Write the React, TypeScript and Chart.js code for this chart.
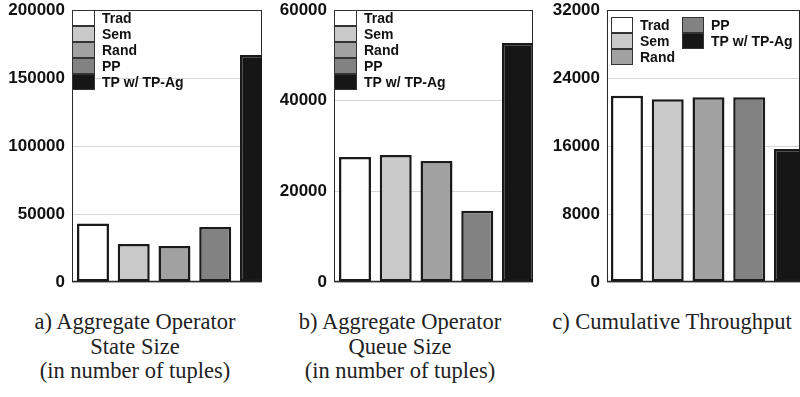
import React, { useEffect, useRef } from "react";
import { Chart, registerables } from "chart.js";
Chart.register(...registerables);

// ---- data ----
const SERIES = ["Trad", "Sem", "Rand", "PP", "TP w/ TP-Ag"];
const COLORS = ["#ffffff", "#c9c9c9", "#a1a1a1", "#828282", "#161616"];
const STATE_SIZE = [43000, 28000, 26500, 40500, 167000];
const QUEUE_SIZE = [27600, 28000, 26700, 15700, 52700];
const THROUGHPUT = [21900, 21500, 21750, 21750, 15650];
const TICKS_STATE = [0, 50000, 100000, 150000, 200000];
const TICKS_QUEUE = [0, 20000, 40000, 60000];
const TICKS_THROUGHPUT = [0, 8000, 16000, 24000, 32000];
const CAPTION_A = ["a) Aggregate Operator", "State Size", "(in number of tuples)"];
const CAPTION_B = ["b) Aggregate Operator", "Queue Size", "(in number of tuples)"];
const CAPTION_C = ["c) Cumulative Throughput"];

type PanelCfg = {
  values: number[];
  ticks: number[];
  left: number;
  width: number;
  yw: number;
  padRight: number;
  xMin: number;
  xMax: number;
  legendCols: number[][];
  legendOffset: { x: number; y: number; colGap: number; boxW: number };
};

const SANS = '"Liberation Sans", Arial, sans-serif';

function Panel({ cfg }: { cfg: PanelCfg }) {
  const ref = useRef<HTMLCanvasElement | null>(null);
  useEffect(() => {
    if (!ref.current) return;
    const step = cfg.ticks[1] - cfg.ticks[0];
    const frame = {
      id: "frame",
      beforeDatasetsDraw(chart: any) {
        const { ctx, chartArea: a } = chart;
        ctx.save();
        ctx.strokeStyle = "#2a2a2a";
        ctx.lineWidth = 1;
        ctx.strokeRect(a.left + 0.5, a.top + 0.5, a.right - a.left - 1, a.bottom - a.top - 1);
        ctx.lineWidth = 1.5;
        ctx.beginPath();
        ctx.moveTo(a.left, a.bottom - 0.5);
        ctx.lineTo(a.right, a.bottom - 0.5);
        ctx.stroke();
        ctx.restore();
      },
    };
    const legend = {
      id: "customLegend",
      afterDraw(chart: any) {
        const { ctx, chartArea: a } = chart;
        const o = cfg.legendOffset;
        const rowH = 16;
        ctx.save();
        ctx.font = `bold 14px ${SANS}`;
        ctx.textBaseline = "middle";
        cfg.legendCols.forEach((col, ci) => {
          col.forEach((si, ri) => {
            const x = a.left + o.x + ci * o.colGap;
            const y = a.top + o.y + ri * rowH;
            ctx.fillStyle = COLORS[si];
            ctx.fillRect(x, y, o.boxW, rowH);
            ctx.strokeStyle = "#333";
            ctx.lineWidth = 1;
            ctx.strokeRect(x + 0.5, y + 0.5, o.boxW - 1, rowH - 1);
            ctx.fillStyle = "#111";
            ctx.fillText(SERIES[si], x + o.boxW + 7, y + rowH / 2 + 1);
          });
        });
        ctx.restore();
      },
    };
    const chart = new Chart(ref.current, {
      type: "bar",
      data: {
        datasets: [
          {
            data: cfg.values.map((v, i) => ({ x: i, y: v })),
            backgroundColor: COLORS,
            borderColor: "#1a1a1a",
            borderWidth: 2.5,
            borderSkipped: false,
            barPercentage: 0.785,
            categoryPercentage: 1,
            clip: 0,
          } as any,
        ],
      },
      options: {
        animation: false,
        responsive: false,
        maintainAspectRatio: false,
        devicePixelRatio: 1,
        layout: { padding: { left: 0, right: cfg.padRight, top: 10, bottom: 14 } },
        plugins: { legend: { display: false }, tooltip: { enabled: false } },
        scales: {
          x: { type: "linear", min: cfg.xMin, max: cfg.xMax, display: false, offset: false },
          y: {
            min: cfg.ticks[0],
            max: cfg.ticks[cfg.ticks.length - 1],
            ticks: {
              stepSize: step,
              padding: 7,
              color: "#111",
              font: { family: SANS, size: 17, weight: "bold", lineHeight: 0.3 },
              callback: (v: any) => String(v),
            },
            grid: { color: "#d6d6d6", drawTicks: false, lineWidth: 1 },
            border: { display: false },
            afterFit: (s: any) => {
              s.width = cfg.yw;
            },
          },
        },
      } as any,
      plugins: [frame, legend],
    });
    return () => chart.destroy();
  }, [cfg]);
  return (
    <canvas
      ref={ref}
      width={cfg.width}
      height={296}
      style={{ position: "absolute", left: cfg.left, top: 0, width: cfg.width, height: 296, display: "block" }}
    />
  );
}

const PANEL_A: PanelCfg = {
  values: STATE_SIZE,
  ticks: TICKS_STATE,
  left: 0,
  width: 270,
  yw: 72,
  padRight: 8,
  xMin: -0.515,
  xMax: 4.148,
  legendCols: [[0, 1, 2, 3, 4]],
  legendOffset: { x: 0, y: 0, colGap: 0, boxW: 23 },
};
const PANEL_B: PanelCfg = {
  values: QUEUE_SIZE,
  ticks: TICKS_QUEUE,
  left: 270,
  width: 270,
  yw: 64,
  padRight: 7,
  xMin: -0.515,
  xMax: 4.368,
  legendCols: [[0, 1, 2, 3, 4]],
  legendOffset: { x: 0, y: 0, colGap: 0, boxW: 23 },
};
const PANEL_C: PanelCfg = {
  values: THROUGHPUT,
  ticks: TICKS_THROUGHPUT,
  left: 540,
  width: 260,
  yw: 67,
  padRight: 0,
  xMin: -0.49,
  xMax: 4.246,
  legendCols: [[0, 1, 2], [3, 4]],
  legendOffset: { x: 4, y: 7, colGap: 71, boxW: 22 },
};

function Caption({ lines, cx }: { lines: string[]; cx: number }) {
  return (
    <div
      style={{
        position: "absolute",
        left: cx - 150,
        top: 310,
        width: 300,
        textAlign: "center",
        fontFamily: '"Liberation Serif", "Times New Roman", serif',
        fontSize: 22.5,
        lineHeight: "24.5px",
        color: "#222",
        whiteSpace: "nowrap",
      }}
    >
      {lines.map((l, i) => (
        <div key={i}>{l}</div>
      ))}
    </div>
  );
}

export default function App() {
  return (
    <div style={{ position: "absolute", left: 0, top: 0, width: 800, height: 397, background: "#fff", overflow: "hidden" }}>
      <Panel cfg={PANEL_A} />
      <Panel cfg={PANEL_B} />
      <Panel cfg={PANEL_C} />
      <Caption lines={CAPTION_A} cx={135} />
      <Caption lines={CAPTION_B} cx={400} />
      <Caption lines={CAPTION_C} cx={672} />
    </div>
  );
}
